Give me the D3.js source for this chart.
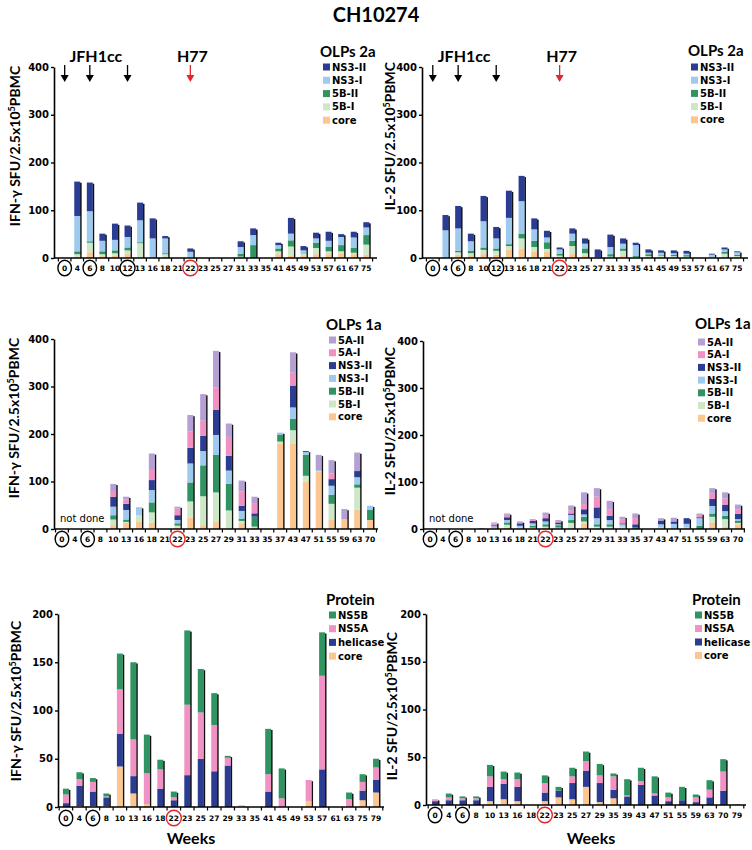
<!DOCTYPE html>
<html><head><meta charset="utf-8">
<script src="https://cdn.jsdelivr.net/npm/d3@7"></script>
<style>body{margin:0;background:#fff}</style>
</head><body><svg id="c" width="752" height="850"></svg>
<script>
// ---------- DATA ----------
const weeks2a = ["0","4","6","8","10","12","13","16","18","21","22","23","25","27","31","33","35","41","45","49","53","57","61","67","75"];
const weeks1a = ["0","4","6","8","10","13","16","18","21","22","23","25","27","29","31","33","35","37","43","47","51","55","59","63","70"];
const weeksProtIFN = ["0","4","6","8","10","13","16","18","22","23","25","27","29","33","35","41","45","49","53","57","61","63","75","79"];
const weeksProtIL2 = ["0","4","6","8","10","13","16","18","22","23","25","27","29","35","39","43","47","51","55","59","63","70","79"];

// Panel A: IFN-gamma, OLPs 2a
const ifn2a_core  = [0,3,12,4,5,8,0,0,2,0,0,0,0,0,0,0,0,8,5,4,8,8,10,8,7];
const ifn2a_5BI   = [0,5,20,4,5,8,31,0,6,0,2,0,0,0,3,0,0,6,19,4,13,6,4,3,21];
const ifn2a_5BII  = [0,6,3,6,6,6,2,0,2,0,0,0,0,0,6,27,0,6,13,0,11,9,13,10,20];
const ifn2a_NS3I  = [0,74,63,22,22,22,46,41,31,0,11,0,0,0,14,21,0,7,14,8,9,13,17,22,16];
const ifn2a_NS3II = [0,72,60,15,34,24,37,42,5,0,7,0,0,0,12,14,0,5,33,9,12,19,6,12,11];

// Panel B: IL-2, OLPs 2a
const il2a_core  = [0,0,7,6,8,7,18,20,13,13,2,8,4,0,0,4,2,0,0,0,0,0,0,2,0];
const il2a_5BI   = [0,0,5,4,9,8,7,21,10,6,3,17,6,0,3,11,0,4,5,4,3,0,2,7,4];
const il2a_5BII  = [0,0,3,5,5,5,4,10,13,14,4,11,10,0,5,5,2,4,2,3,3,0,0,4,3];
const il2a_NS3I  = [0,58,47,20,55,21,55,68,24,10,9,15,10,2,15,10,23,3,4,3,3,1,5,5,5];
const il2a_NS3II = [0,32,47,16,53,24,57,53,23,14,4,11,11,16,26,11,5,7,5,6,6,0,2,4,2];

// Panel C: IFN-gamma, OLPs 1a
const ifn1a_core  = [0,0,0,0,8,13,15,13,0,3,24,8,15,0,12,2,0,180,179,100,120,19,21,41,19];
const ifn1a_5BI   = [0,0,0,0,12,2,14,22,0,4,34,61,62,39,5,3,0,4,29,12,2,34,0,46,0];
const ifn1a_5BII  = [0,0,0,0,9,5,0,21,0,5,40,65,79,56,5,21,0,15,24,44,0,19,0,7,22];
const ifn1a_NS3I  = [0,0,0,0,18,20,17,26,0,7,40,30,42,28,16,0,0,4,24,6,2,19,0,15,8];
const ifn1a_NS3II = [0,0,0,0,21,13,0,21,0,10,33,32,53,31,11,7,0,0,46,2,0,14,0,13,0];
const ifn1a_5AI   = [0,0,0,0,12,9,0,21,0,14,34,32,47,40,30,20,0,0,27,0,0,12,0,0,0];
const ifn1a_5AII  = [0,0,0,0,15,6,0,35,0,4,35,56,77,28,23,15,0,0,43,0,32,28,21,39,0];

// Panel D: IL-2, OLPs 1a
const il1a_core  = [0,0,0,0,0,0,3,0,3,2,0,0,12,0,0,0,0,0,0,0,0,0,13,5,10];
const il1a_5BI   = [0,0,0,0,0,2,6,3,0,3,3,13,4,5,5,5,0,0,3,0,3,0,13,16,3];
const il1a_5BII  = [0,0,0,0,0,0,5,0,4,5,5,6,10,5,5,0,3,0,0,0,0,7,7,7,5];
const il1a_NS3I  = [0,0,0,0,0,4,5,4,5,6,2,11,5,13,9,5,0,0,7,11,8,16,16,10,3];
const il1a_NS3II = [0,0,0,0,0,2,6,5,5,7,4,3,11,23,9,2,7,0,8,5,12,2,15,14,11];
const il1a_5AI   = [0,0,0,0,0,4,5,0,2,5,3,7,11,23,14,9,13,0,0,0,0,5,12,13,10];
const il1a_5AII  = [0,0,0,0,2,2,3,4,2,7,2,10,25,18,18,5,10,0,5,8,0,3,11,13,10];

// Panel E: IFN-gamma, Protein
const ifnP_core     = [0,1,1,1,42,14,3,0,0,0,0,0,0,2,0,0,0,0,6,0,0,0,7,15];
const ifnP_helicase = [4,21,15,9,34,18,0,19,7,33,50,37,43,0,0,16,0,0,0,39,0,0,10,13];
const ifnP_NS5A     = [9,7,10,1,46,38,32,20,3,73,48,48,8,0,0,18,9,0,22,97,0,8,9,13];
const ifnP_NS5B     = [6,7,4,3,37,80,40,10,6,77,45,33,2,0,0,47,31,0,0,45,0,7,8,9];

// Panel F: IL-2, Protein
const ilP_core     = [0,0,0,0,4,6,4,0,4,8,6,19,3,7,0,0,0,0,0,0,0,0,0];
const ilP_helicase = [4,5,5,5,15,16,15,0,9,7,17,17,20,9,9,21,10,4,5,3,8,15,0];
const ilP_NS5A     = [2,3,2,2,11,5,8,0,10,0,7,10,8,14,1,4,2,4,0,5,8,20,0];
const ilP_NS5B     = [0,4,2,2,12,8,7,0,8,4,9,10,12,3,17,14,18,5,14,3,10,13,0.5];

const yTicks400 = [0,100,200,300,400];
const yTicks200 = [0,50,100,150,200];

// ---------- STYLE ----------
const colors = {
  "core":"#fbc690","5B-I":"#cde8c7","5B-II":"#2f9462","NS3-I":"#9dcaee","NS3-II":"#2b3d93",
  "5A-I":"#f191c3","5A-II":"#b4a0d4","helicase":"#2b3d93","NS5A":"#f092c3","NS5B":"#2f9462"
};
const RED = "#e3262b";
const svg = d3.select("#c");
const tickFont = "DejaVu Sans, Verdana, sans-serif";
const titleFont = "Lato, 'Open Sans', sans-serif";

svg.append("text").attr("x",376).attr("y",22).attr("text-anchor","middle")
  .attr("font-family",titleFont).attr("font-weight","bold").attr("font-size",20).text("CH10274");

function panel(o){
  const g = svg.append("g");
  const x = d3.scaleBand().domain(o.weeks).range(o.xr).paddingInner(0).paddingOuter(o.po);
  const y = d3.scaleLinear().domain([0,o.ymax]).range([o.y0,o.y1]);
  const keys = o.series.map(s=>s.key);
  const rows = o.weeks.map((w,i)=>{const r={week:w}; o.series.forEach(s=>r[s.key]=s.values[i]); return r;});
  const stacked = d3.stack().keys(keys)(rows);
  const bw = 6;
  const cx = w => x(w)+x.bandwidth()/2;
  const total = r => d3.sum(keys,k=>r[k]);

  // shadow (3D edge)
  g.append("g").selectAll("rect").data(rows.filter(r=>total(r)>0)).join("rect")
    .attr("x",d=>cx(d.week)+bw/2-0.3).attr("width",1.7)
    .attr("y",d=>y(total(d))+1.2).attr("height",d=>Math.max(0,o.y0-y(total(d))-1.2))
    .attr("fill","#111");
  // stacked bars
  g.append("g").selectAll("g").data(stacked).join("g").attr("fill",d=>colors[d.key])
    .selectAll("rect").data(d=>d.map((v,i)=>({v,week:o.weeks[i]})).filter(e=>e.v[1]>e.v[0])).join("rect")
    .attr("x",d=>cx(d.week)-bw/2).attr("width",bw)
    .attr("y",d=>y(d.v[1])).attr("height",d=>y(d.v[0])-y(d.v[1]));

  // y axis
  const ya = g.append("g").attr("transform",`translate(${o.xr[0]},0)`)
    .call(d3.axisLeft(y).tickValues(o.yticks).tickSize(3).tickSizeOuter(0).tickPadding(2));
  ya.select(".domain").attr("stroke","#000").attr("stroke-width",1.6);
  ya.selectAll(".tick line").attr("stroke","#000").attr("stroke-width",1.4);
  ya.selectAll("text").attr("font-family",tickFont).attr("font-weight","bold").attr("font-size",10).attr("fill","#000");

  // x axis
  g.append("line").attr("x1",o.xr[0]).attr("x2",o.xr[1]).attr("y1",o.y0).attr("y2",o.y0)
    .attr("stroke","#000").attr("stroke-width",1.6);
  const bounds = o.weeks.map(w=>x(w)).concat([x(o.weeks[o.weeks.length-1])+x.step()]);
  g.append("g").selectAll("line").data(bounds).join("line")
    .attr("x1",d=>d).attr("x2",d=>d).attr("y1",o.y0).attr("y2",o.y0+3.5)
    .attr("stroke","#000").attr("stroke-width",1.2);
  g.append("g").selectAll("text").data(o.weeks).join("text")
    .attr("x",d=>cx(d)).attr("y",o.ly).attr("dy","0.35em").attr("text-anchor","middle")
    .attr("font-family",tickFont).attr("font-weight","bold").attr("font-size",7.5).text(d=>d);
  // circled weeks
  g.append("g").selectAll("ellipse").data(o.circles).join("ellipse")
    .attr("cx",d=>cx(d.w)).attr("cy",o.ly).attr("rx",d=>d.w.length>1?7.5:6.8).attr("ry",7.8)
    .attr("fill","none").attr("stroke",d=>d.red?RED:"#000").attr("stroke-width",1.4);

  // y title
  const yt = g.append("text").attr("transform",`translate(${o.ytx},${o.yty}) rotate(-90)`)
    .attr("text-anchor","middle").attr("dy","0.35em")
    .attr("font-family",titleFont).attr("font-weight","bold").attr("font-size",14);
  yt.append("tspan").text(o.ytitle+" SFU/2.5x10");
  yt.append("tspan").attr("baseline-shift","super").attr("font-size",9).text("5");
  yt.append("tspan").text("PBMC");

  // legend
  const lg = g.append("g");
  lg.append("text").attr("x",o.legX-3).attr("y",o.legTY).attr("dy","0.35em")
    .attr("font-family",titleFont).attr("font-weight","bold").attr("font-size",15).text(o.legTitle);
  const items = keys.slice().reverse();
  const it = lg.selectAll("g.it").data(items).join("g").attr("class","it")
    .attr("transform",(d,i)=>`translate(${o.legX},${o.legY+i*o.legStep})`);
  it.append("rect").attr("x",0).attr("y",-3.5).attr("width",7).attr("height",7).attr("fill",d=>colors[d]);
  it.append("text").attr("x",9).attr("y",0).attr("dy","0.35em")
    .attr("font-family",tickFont).attr("font-weight","bold").attr("font-size",10).text(d=>d);

  if(o.arrows){
    o.arrows.forEach(a=>{
      const ax = cx(a.w), col = a.red?RED:"#000";
      g.append("line").attr("x1",ax).attr("x2",ax).attr("y1",65).attr("y2",76)
        .attr("stroke",col).attr("stroke-width",1.3);
      g.append("path").attr("d",`M${ax-4},75 L${ax+4},75 L${ax},82 Z`).attr("fill",col);
    });
    g.append("text").attr("x",cx("6")+6).attr("y",56).attr("dy","0.35em").attr("text-anchor","middle")
      .attr("font-family",titleFont).attr("font-weight","bold").attr("font-size",16).text("JFH1cc");
    g.append("text").attr("x",cx("22")+2).attr("y",56).attr("dy","0.35em").attr("text-anchor","middle")
      .attr("font-family",titleFont).attr("font-weight","bold").attr("font-size",16).text("H77");
  }
  if(o.notDone){
    g.append("text").attr("x",o.xr[0]+6).attr("y",o.y0-11).attr("dy","0.35em")
      .attr("font-family",tickFont).attr("font-size",10).text("not done");
  }
  if(o.weeksLabel){
    g.append("text").attr("x",o.weeksLabel).attr("y",838).attr("dy","0.35em").attr("text-anchor","middle")
      .attr("font-family",titleFont).attr("font-weight","bold").attr("font-size",16).text("Weeks");
  }
}

const s2a = (c,b1,b2,n1,n2)=>[{key:"core",values:c},{key:"5B-I",values:b1},{key:"5B-II",values:b2},{key:"NS3-I",values:n1},{key:"NS3-II",values:n2}];
const s1a = (c,b1,b2,n1,n2,a1,a2)=>s2a(c,b1,b2,n1,n2).concat([{key:"5A-I",values:a1},{key:"5A-II",values:a2}]);
const sP = (c,h,a,b)=>[{key:"core",values:c},{key:"helicase",values:h},{key:"NS5A",values:a},{key:"NS5B",values:b}];
const arrowsTop = [{w:"0"},{w:"6"},{w:"12"},{w:"22",red:true}];
const circ2a = [{w:"0"},{w:"6"},{w:"12"},{w:"22",red:true}];
const circRest = [{w:"0"},{w:"6"},{w:"22",red:true}];

panel({weeks:weeks2a, series:s2a(ifn2a_core,ifn2a_5BI,ifn2a_5BII,ifn2a_NS3I,ifn2a_NS3II),
  xr:[54,377], po:0.35, y0:258, y1:67, ymax:400, yticks:yTicks400, ly:268, circles:circ2a,
  ytitle:"IFN-γ", ytx:15, yty:146, legTitle:"OLPs 2a", legX:323, legTY:52, legY:67, legStep:13.3, arrows:arrowsTop});
panel({weeks:weeks2a, series:s2a(il2a_core,il2a_5BI,il2a_5BII,il2a_NS3I,il2a_NS3II),
  xr:[422,748], po:0.35, y0:258, y1:67, ymax:400, yticks:yTicks400, ly:268, circles:circ2a,
  ytitle:"IL-2", ytx:390, yty:136, legTitle:"OLPs 2a", legX:691, legTY:51, legY:67, legStep:13.2, arrows:arrowsTop});
panel({weeks:weeks1a, series:s1a(ifn1a_core,ifn1a_5BI,ifn1a_5BII,ifn1a_NS3I,ifn1a_NS3II,ifn1a_5AI,ifn1a_5AII),
  xr:[54,378], po:0.12, y0:529, y1:339, ymax:400, yticks:yTicks400, ly:539, circles:circRest,
  ytitle:"IFN-γ", ytx:14, yty:418, legTitle:"OLPs 1a", legX:329, legTY:325, legY:340, legStep:12.8, notDone:true});
panel({weeks:weeks1a, series:s1a(il1a_core,il1a_5BI,il1a_5BII,il1a_NS3I,il1a_NS3II,il1a_5AI,il1a_5AII),
  xr:[423,745], po:0.05, y0:529, y1:341, ymax:400, yticks:yTicks400, ly:539, circles:circRest,
  ytitle:"IL-2", ytx:390, yty:421, legTitle:"OLPs 1a", legX:698, legTY:324, legY:342, legStep:12.7, notDone:true});
panel({weeks:weeksProtIFN, series:sP(ifnP_core,ifnP_helicase,ifnP_NS5A,ifnP_NS5B),
  xr:[58,384], po:0.09, y0:807, y1:614, ymax:200, yticks:yTicks200, ly:818, circles:circRest,
  ytitle:"IFN-γ", ytx:16, yty:701, legTitle:"Protein", legX:329, legTY:600, legY:615, legStep:13.7, weeksLabel:191});
panel({weeks:weeksProtIL2, series:sP(ilP_core,ilP_helicase,ilP_NS5A,ilP_NS5B),
  xr:[426,746], po:0.16, y0:805, y1:614, ymax:200, yticks:yTicks200, ly:815, circles:circRest,
  ytitle:"IL-2", ytx:392, yty:706, legTitle:"Protein", legX:695, legTY:600, legY:615, legStep:13.5, weeksLabel:591});
</script></body></html>
